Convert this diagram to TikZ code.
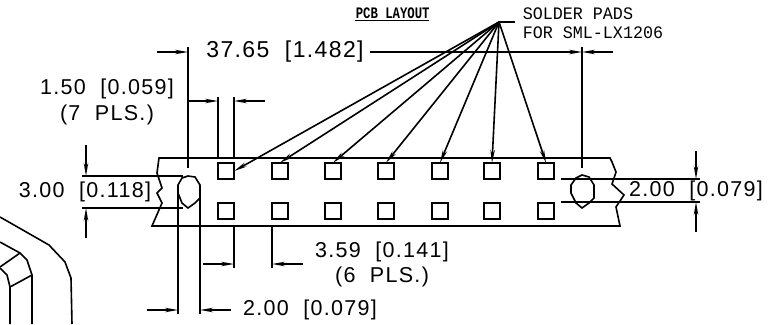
\documentclass[tikz,border=0pt]{standalone}
\usepackage{fontspec}
\usetikzlibrary{arrows.meta}
\setmainfont{Liberation Sans}
\newfontfamily\cadfont[LetterSpace=6]{Liberation Sans}
\newfontfamily\notefont{Liberation Mono}

\begin{document}
\begin{tikzpicture}[x=1pt, y=-1pt, line width=1.6pt,
    dimarrow/.style={-{Stealth[length=13pt,width=4.5pt]}},
    padbox/.style={rectangle, draw=black, minimum size=16.5pt, inner sep=0pt, outer sep=0pt},
    dimtext/.style={inner sep=0pt, font=\cadfont\fontsize{21.5}{22}\selectfont},
    notetext/.style={inner sep=0pt, anchor=west, font=\notefont\fontsize{16.7}{17}\selectfont}]
    \useasboundingbox (0,0) rectangle (783,324);

    % Strip outline
    \draw (159,158) -- (610,158) -- (612,162) -- (616,172) -- (612,184) -- (624,195) -- (616,207) -- (620,226) -- (152,226)
      -- (162,203) -- (157,193) -- (162,188) -- (157,173) -- cycle;

    % Pads
    \foreach \i/\px in {1/226,2/280,3/333,4/386,5/440,6/492,7/546} {
      \node (pada\i) [padbox] at (\px,171) {};
      \node (padb\i) [padbox] at (\px,211) {};
    }

    % Holes
    \draw (188,176) -- (195,177) -- (200,185) -- (200,198) -- (195,203) -- (188,208) -- (182,203) -- (178,193) -- (178,185) -- (182,178) -- cycle;
    \draw (582,175) -- (589,177) -- (594,185) -- (594,198) -- (589,203) -- (582,208) -- (576,203) -- (571,193) -- (571,185) -- (576,178) -- cycle;

    % Part in the corner
    \draw (0,217) -- (49,245) -- (65,262) -- (71,278) -- (72,324);
    \draw (0,242) -- (20,253) -- (27,260) -- (32,275) -- (32,324);
    \draw (0,267) -- (20,253);
    \draw (0,268) -- (7,275) -- (10,287) -- (10,324);
    \draw (10,287) -- (32,275);

    % Texts
    \node (title) [inner sep=0pt, anchor=west, font=\notefont\fontsize{12.3}{13}\selectfont\bfseries] at (355,13) {\scalebox{1}[1.3]{PCB LAYOUT}};
    \draw[line width=1pt] (355,20) -- (429,20);
    \node (note1) [notetext] at (522,14) {\scalebox{1}[1.05]{SOLDER PADS}};
    \node (note2) [notetext] at (522,33) {\scalebox{1}[1.05]{FOR SML-LX1206}};
    \node (total) [dimtext, font=\cadfont\fontsize{23}{23}\selectfont] at (285,52) {37.65~~[1.482]};
    \node (padw) [dimtext] at (107,89) {1.50~~[0.059]};
    \node (padwn) [dimtext] at (107,115) {(7~~PLS.)};
    \node (holeh) [dimtext] at (85,192) {3.00~~[0.118]};
    \node (rowh) [dimtext] at (696,191) {2.00~~[0.079]};
    \node (gap) [dimtext] at (382,252) {3.59~~[0.141]};
    \node (gapn) [dimtext] at (382,277) {(6~~PLS.)};
    \node (holew) [dimtext] at (310,310) {2.00~~[0.079]};

    % Leaders
    \coordinate (fan) at (499,22);
    \draw (fan) -- (515,22);
    \draw[dimarrow] (fan) -- (pada1.east);
    \foreach \i in {2,...,7} {
      \draw[dimarrow] (fan) -- (pada\i.north);
    }

    % Dimension 37.65
    \draw (188,47) -- (188,168);
    \draw (582,47) -- (582,168);
    \draw[dimarrow] (157,52) -- (188,52);
    \draw[dimarrow] (total) ++(85,0) -- (582,52);
    \draw[dimarrow] (613,52) -- (582,52);

    % Dimension 1.50
    \draw (218,97) -- (218,158);
    \draw (234,97) -- (234,158);
    \draw[dimarrow] (188,101) -- (218,101);
    \draw[dimarrow] (265,101) -- (234,101);

    % Dimension 3.00
    \draw (82,176) -- (183,176);
    \draw (82,208) -- (183,208);
    \draw[dimarrow] (86,145) -- (86,176);
    \draw[dimarrow] (86,238) -- (86,208);

    % Dimension 2.00 right
    \draw (561,179) -- (700,179);
    \draw (561,202) -- (700,202);
    \draw[dimarrow] (696,151) -- (696,179);
    \draw[dimarrow] (696,232) -- (696,202);

    % Dimension 3.59
    \draw (234,226) -- (234,268);
    \draw (272,226) -- (272,268);
    \draw[dimarrow] (203,264) -- (234,264);
    \draw[dimarrow] (303,264) -- (272,264);

    % Dimension 2.00 bottom
    \draw (178,192) -- (178,314);
    \draw (200,192) -- (200,314);
    \draw[dimarrow] (147,310) -- (178,310);
    \draw[dimarrow] (231,310) -- (200,310);

\end{tikzpicture}
\end{document}
